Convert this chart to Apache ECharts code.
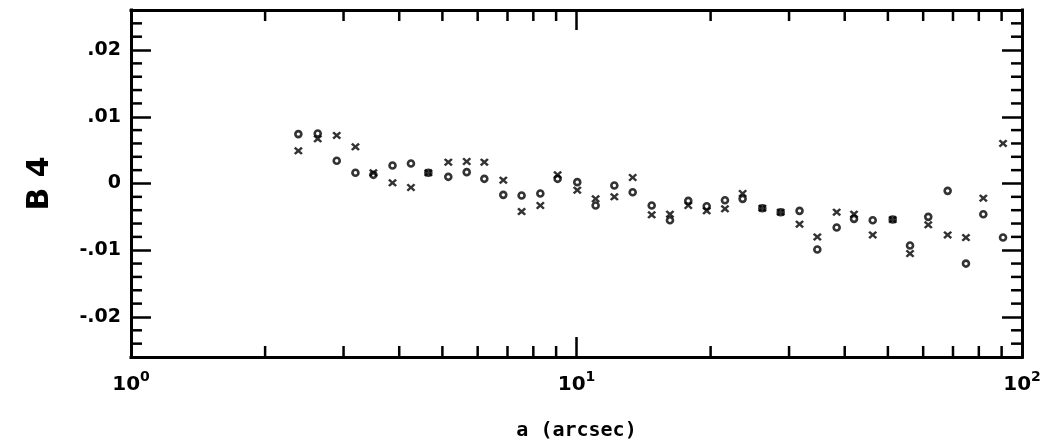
<!DOCTYPE html>
<html>
    <head>
        <meta charset="utf-8">
        <title>B4 vs a</title>
        <script src="https://cdn.jsdelivr.net/npm/echarts@6/dist/echarts.min.js"></script>
    </head>
    <body style="margin:0;background:#fff;">
    <div id="main" style="width: 1045px; height: 442px;"></div>
    <script type="text/javascript">

// semi-major axis (arcsec)
var aValues = [2.375, 2.625, 2.896, 3.19, 3.50, 3.864, 4.25, 4.65, 5.155, 5.67,
  6.21, 6.85, 7.53, 8.295, 9.07, 10.04, 11.04, 12.16, 13.37, 14.75,
  16.21, 17.82, 19.6, 21.54, 23.6, 26.13, 28.73, 31.67, 34.72, 38.37,
  41.97, 46.23, 51.26, 56.06, 61.6, 68.1, 74.85, 81.88, 90.66];

// B4 for the "o" points
var b4Circle = [0.0074, 0.0075, 0.0034, 0.0016, 0.0013, 0.0027, 0.0030, 0.0016, 0.0010, 0.0017,
  0.0007, -0.0017, -0.0018, -0.0015, 0.0007, 0.0002, -0.0033, -0.0003, -0.0013, -0.0033,
  -0.0055, -0.0026, -0.0034, -0.0025, -0.0023, -0.0037, -0.0043, -0.0041, -0.0099, -0.0066,
  -0.0053, -0.0055, -0.0054, -0.0093, -0.0050, -0.0011, -0.0120, -0.0046, -0.0081];

// B4 for the "x" points
var b4Cross = [0.0049, 0.0067, 0.0072, 0.0055, 0.0016, 0.0001, -0.0006, 0.0016, 0.0032, 0.0033,
  0.0032, 0.0005, -0.0042, -0.0033, 0.0013, -0.0010, -0.0023, -0.0020, 0.0009, -0.0047,
  -0.0046, -0.0033, -0.0041, -0.0038, -0.0015, -0.0037, -0.0043, -0.0061, -0.0080, -0.0043,
  -0.0046, -0.0077, -0.0054, -0.0105, -0.0062, -0.0077, -0.0081, -0.0022, 0.0060];

// minor tick values
var xMinorTicks = [2, 3, 4, 5, 6, 7, 8, 9, 20, 30, 40, 50, 60, 70, 80, 90];
var yMinorTicks = [-0.024, -0.022, -0.018, -0.016, -0.014, -0.012, -0.008, -0.006, -0.004, -0.002,
  0.002, 0.004, 0.006, 0.008, 0.012, 0.014, 0.016, 0.018, 0.022, 0.024];

var yMin = -0.026, yMax = 0.026;

var chartDom = document.getElementById('main');
var myChart = echarts.init(chartDom);

function pairs(xs, ys) {
  return xs.map(function (x, i) { return [x, ys[i]]; });
}

function yLabel(v) {
  var r = Math.round(v * 100);
  if (Math.abs(v * 100 - r) > 1e-6) return '';
  if (r === 0) return '0';
  return (r < 0 ? '-' : '') + '.0' + Math.abs(r);
}

var tickStyle = { stroke: '#000', lineWidth: 2.5 };
var frameLine = { color: '#000', width: 3, cap: 'square' };
var majorTick = { inside: true, length: 20, lineStyle: { color: '#000', width: 2.5 } };
var labelFont = 'DejaVu Sans';

var crossPath = 'path://M0,2L2,0L5,3L8,0L10,2L7,5L10,8L8,10L5,7L2,10L0,8L3,5Z';

var option = {
  animation: false,
  backgroundColor: '#fff',
  grid: { left: 131, right: 23, top: 10, bottom: 85, outerBoundsMode: 'none' },
  xAxis: [
    {
      type: 'log', logBase: 10, min: 1, max: 100, splitNumber: 2,
      name: 'a (arcsec)', nameLocation: 'middle', nameGap: 64,
      nameTextStyle: { color: '#000', fontFamily: 'DejaVu Sans Mono', fontWeight: 'bold', fontSize: 20 },
      axisLine: { onZero: false, lineStyle: frameLine },
      axisTick: majorTick,
      splitLine: { show: false },
      axisLabel: {
        margin: 13,
        formatter: function (v) {
          return '{b|10}{s|' + Math.round(Math.log10(v)) + '}';
        },
        rich: {
          b: { fontFamily: labelFont, fontWeight: 'bold', fontSize: 20, color: '#000' },
          s: { fontFamily: labelFont, fontWeight: 'bold', fontSize: 14, color: '#000', padding: [0, 0, 15, 0] }
        }
      }
    },
    {
      type: 'log', logBase: 10, min: 1, max: 100, splitNumber: 2, position: 'top',
      axisLine: { onZero: false, lineStyle: frameLine },
      axisTick: majorTick,
      axisLabel: { show: false },
      splitLine: { show: false }
    }
  ],
  yAxis: [
    {
      type: 'value', min: yMin, max: yMax,
      name: 'B 4', nameLocation: 'middle', nameGap: 76, nameRotate: 90,
      nameTextStyle: { color: '#000', fontFamily: labelFont, fontWeight: 'bold', fontSize: 30 },
      axisLine: { onZero: false, lineStyle: frameLine },
      axisTick: majorTick,
      splitLine: { show: false },
      axisLabel: {
        margin: 10, showMinLabel: false, showMaxLabel: false,
        color: '#000', fontFamily: labelFont, fontWeight: 'bold', fontSize: 19,
        formatter: yLabel
      }
    },
    {
      type: 'value', min: yMin, max: yMax, position: 'right',
      axisLine: { onZero: false, lineStyle: frameLine },
      axisTick: majorTick,
      axisLabel: { show: false },
      splitLine: { show: false }
    }
  ],
  series: [
    {
      type: 'custom', silent: true, clip: false,
      data: xMinorTicks.map(function (v) { return [v, 0]; }),
      renderItem: function (params, api) {
        var cs = params.coordSys;
        var x = api.coord([api.value(0), 0])[0];
        var b = cs.y + cs.height;
        return {
          type: 'group', children: [
            { type: 'line', shape: { x1: x, y1: b, x2: x, y2: b - 11 }, style: tickStyle },
            { type: 'line', shape: { x1: x, y1: cs.y, x2: x, y2: cs.y + 11 }, style: tickStyle }
          ]
        };
      }
    },
    {
      type: 'custom', silent: true, clip: false,
      data: yMinorTicks.map(function (v) { return [1, v]; }),
      renderItem: function (params, api) {
        var cs = params.coordSys;
        var y = api.coord([1, api.value(1)])[1];
        var r = cs.x + cs.width;
        return {
          type: 'group', children: [
            { type: 'line', shape: { x1: cs.x, y1: y, x2: cs.x + 11, y2: y }, style: tickStyle },
            { type: 'line', shape: { x1: r, y1: y, x2: r - 11, y2: y }, style: tickStyle }
          ]
        };
      }
    },
    {
      name: 'o', type: 'scatter', symbol: 'circle', symbolSize: 6,
      itemStyle: { color: '#fff', borderColor: '#000', borderWidth: 2.6 },
      data: pairs(aValues, b4Circle)
    },
    {
      name: 'x', type: 'scatter', symbol: crossPath, symbolSize: [9, 8],
      itemStyle: { color: '#000' },
      data: pairs(aValues, b4Cross)
    }
  ]
};

option && myChart.setOption(option);
    </script>
    </body>
</html>
